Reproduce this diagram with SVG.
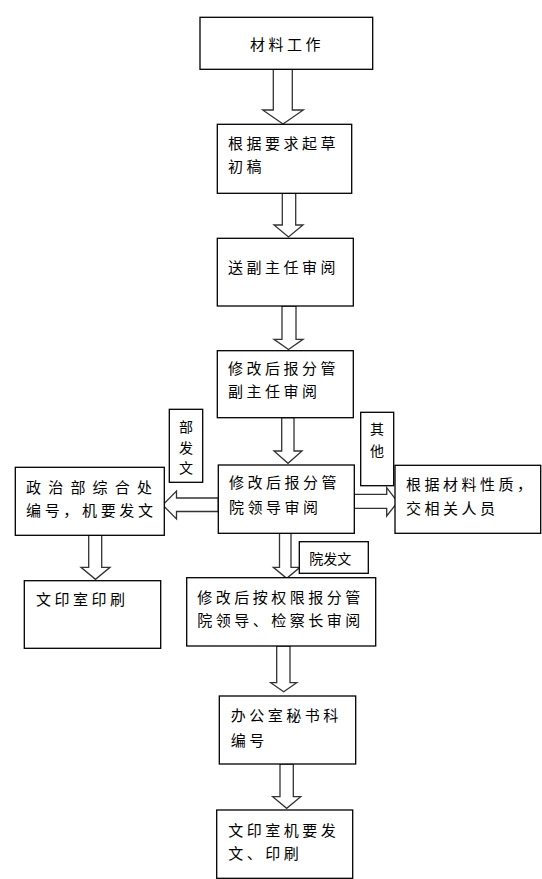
<svg xmlns="http://www.w3.org/2000/svg" width="542" height="879" viewBox="0 0 542 879">
<style>
.box{fill:#fff;stroke:#000;stroke-width:1.3}
.arr{fill:#fff;stroke:#333;stroke-width:1.3;stroke-linejoin:miter}
.t{font-family:"Noto Sans CJK SC","Liberation Serif",serif;font-size:15px;letter-spacing:3.5px;fill:#000;dominant-baseline:central}
.s{font-family:"Noto Sans CJK SC","Liberation Sans",sans-serif;font-size:14px;fill:#000;dominant-baseline:central}
</style>
<rect width="542" height="879" fill="#fff"/>
<g id="connectors">
<polygon class="arr" points="273.3,69.3 292.3,69.3 292.3,110 303.3,110 283,124 262.7,110 273.3,110"/>
<polygon class="arr" points="282.3,193.3 295.7,193.3 295.7,225 303,225 288.5,237 274,225 282.3,225"/>
<polygon class="arr" points="282,306 296,306 296,339.3 303,339.3 288.5,349.5 274,339.3 282,339.3"/>
<polygon class="arr" points="281.7,417.7 294,417.7 294,451 302,451 288,463.3 274,451 281.7,451"/>
<polygon class="arr" points="218.3,498 176.5,498 176.5,491 162.7,505 176.5,519 176.5,511.5 218.3,511.5"/>
<polygon class="arr" points="354.3,494.3 386.7,494.3 386.7,487.7 397.7,502 386.7,516 386.7,508.3 354.3,508.3"/>
<polygon class="arr" points="279.5,533.3 291,533.3 291,567.3 300,567.3 286.7,578.3 273.3,567.3 279.5,567.3"/>
<polygon class="arr" points="88.7,535.3 101.7,535.3 101.7,567.3 110,567.3 95.5,579.3 81,567.3 88.7,567.3"/>
<polygon class="arr" points="276.7,646 290,646 290,682.7 296.7,682.7 283.7,691.7 270.7,682.7 276.7,682.7"/>
<polygon class="arr" points="280,764 293.3,764 293.3,796.7 300.7,796.7 286.7,808.3 272.7,796.7 280,796.7"/>
</g>
<g id="n1"><rect class="box" x="200" y="17.3" width="172.7" height="52"/><text class="t" x="250" y="43.5">材料工作</text></g>
<g id="n2"><rect class="box" x="217.3" y="124.3" width="134.4" height="69"/><text class="t" x="228" y="142.5">根据要求起草</text><text class="t" x="228" y="165">初稿</text></g>
<g id="n3"><rect class="box" x="217.3" y="238.3" width="136" height="67.7"/><text class="t" x="228" y="266">送副主任审阅</text></g>
<g id="n4"><rect class="box" x="217.3" y="350.7" width="136" height="67"/><text class="t" x="228" y="367.5">修改后报分管</text><text class="t" x="228" y="390">副主任审阅</text></g>
<g id="n5"><rect class="box" x="218.3" y="465" width="136" height="68.3"/><text class="t" x="229" y="481.7">修改后报分管</text><text class="t" x="229" y="506.5">院领导审阅</text></g>
<g id="l1"><rect class="box" x="169.3" y="409.3" width="33.4" height="73"/><text class="s" x="186" y="426" text-anchor="middle">部</text><text class="s" x="186" y="446.7" text-anchor="middle">发</text><text class="s" x="186" y="466.7" text-anchor="middle">文</text></g>
<g id="l2"><rect class="box" x="360.7" y="412.3" width="33" height="73.4"/><text class="s" x="377" y="428.3" text-anchor="middle">其</text><text class="s" x="377" y="450" text-anchor="middle">他</text></g>
<g id="n6"><rect class="box" x="395" y="465.3" width="145.7" height="68"/><text class="t" x="406" y="483.3">根据材料性质，</text><text class="t" x="406" y="507.3">交相关人员</text></g>
<g id="n7"><rect class="box" x="15.3" y="467.3" width="149" height="68"/><text class="t" x="26" y="486" textLength="126" lengthAdjust="spacing" style="letter-spacing:0">政治部综合处</text><text class="t" x="26" y="509" textLength="127" lengthAdjust="spacing" style="letter-spacing:0">编号，机要发文</text></g>
<g id="n8"><rect class="box" x="24.3" y="580.7" width="136.4" height="67.6"/><text class="t" x="36" y="598.3">文印室印刷</text></g>
<g id="l3"><rect class="box" x="299.3" y="541.7" width="69" height="31.6"/><text class="s" x="309.3" y="558.3">院发文</text></g>
<g id="n9"><rect class="box" x="186.7" y="577.7" width="189" height="68.3"/><text class="t" x="197.3" y="596.7">修改后按权限报分管</text><text class="t" x="197.3" y="619.3">院领导、检察长审阅</text></g>
<g id="n10"><rect class="box" x="219.3" y="696" width="136.4" height="68"/><text class="t" x="230.7" y="714.3">办公室秘书科</text><text class="t" x="230.7" y="739.3">编号</text></g>
<g id="n11"><rect class="box" x="216.7" y="810" width="136" height="68.3"/><text class="t" x="228.3" y="829.3">文印室机要发</text><text class="t" x="228.3" y="852.7">文、印刷</text></g>
</svg>
